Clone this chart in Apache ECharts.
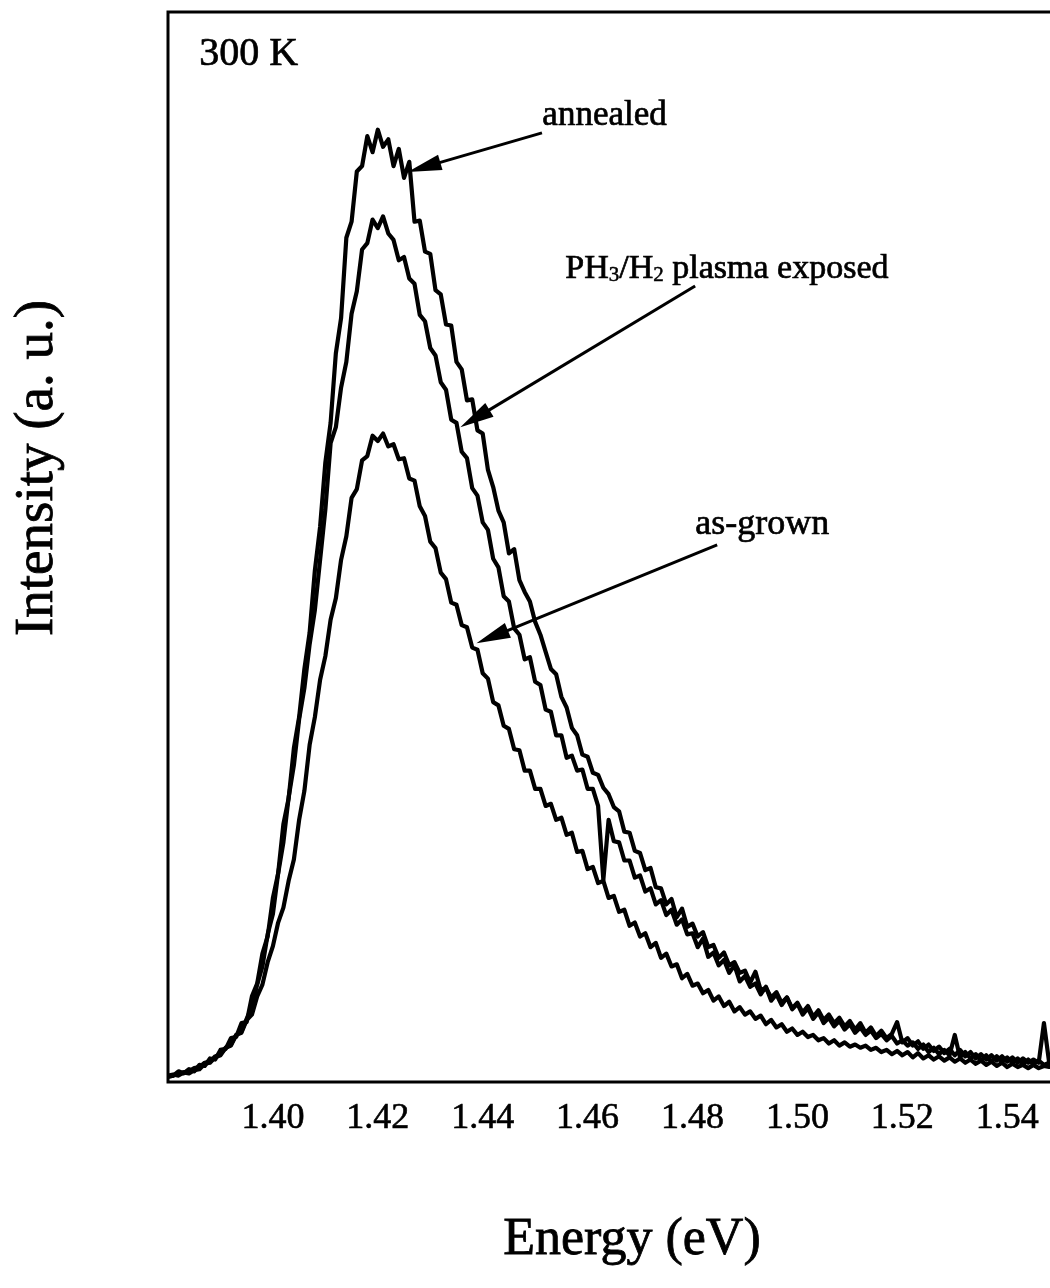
<!DOCTYPE html>
<html>
<head>
<meta charset="utf-8">
<script src="https://cdn.jsdelivr.net/npm/echarts@6/dist/echarts.min.js"></script>
<style>
  html, body { margin: 0; padding: 0; background: #fff; }
  #chart { width: 1050px; height: 1288px; }
</style>
</head>
<body>
<div id="chart"></div>
<script>
// Photon energy of each sample (eV)
const energies = [
  1.380,
  1.381,1.382,1.383,1.384,1.385,1.386,1.387,1.388,1.389,1.390,
  1.391,1.392,1.393,1.394,1.395,1.396,1.397,1.398,1.399,1.400,
  1.401,1.402,1.403,1.404,1.405,1.406,1.407,1.408,1.409,1.410,
  1.411,1.412,1.413,1.414,1.415,1.416,1.417,1.418,1.419,1.420,
  1.421,1.422,1.423,1.424,1.425,1.426,1.427,1.428,1.429,1.430,
  1.431,1.432,1.433,1.434,1.435,1.436,1.437,1.438,1.439,1.440,
  1.441,1.442,1.443,1.444,1.445,1.446,1.447,1.448,1.449,1.450,
  1.451,1.452,1.453,1.454,1.455,1.456,1.457,1.458,1.459,1.460,
  1.461,1.462,1.463,1.464,1.465,1.466,1.467,1.468,1.469,1.470,
  1.471,1.472,1.473,1.474,1.475,1.476,1.477,1.478,1.479,1.480,
  1.481,1.482,1.483,1.484,1.485,1.486,1.487,1.488,1.489,1.490,
  1.491,1.492,1.493,1.494,1.495,1.496,1.497,1.498,1.499,1.500,
  1.501,1.502,1.503,1.504,1.505,1.506,1.507,1.508,1.509,1.510,
  1.511,1.512,1.513,1.514,1.515,1.516,1.517,1.518,1.519,1.520,
  1.521,1.522,1.523,1.524,1.525,1.526,1.527,1.528,1.529,1.530,
  1.531,1.532,1.533,1.534,1.535,1.536,1.537,1.538,1.539,1.540,
  1.541,1.542,1.543,1.544,1.545,1.546,1.547,1.548,1.549
];

// PL intensity (a.u.) after annealing
const annealed = [
  0.5,
  0.6,1.0,0.8,1.2,1.0,1.6,1.5,2.2,2.1,3.0,
  3.1,4.1,4.2,5.5,5.6,8.0,9.2,12.0,13.6,17.2,
  19.5,24.1,26.5,31.2,34.1,38.6,42.0,47.8,51.9,57.9,
  61.6,68.1,71.4,78.9,80.4,85.1,85.6,88.4,86.9,89.0,
  87.4,88.1,85.6,87.2,84.5,86.0,80.4,80.5,77.6,77.4,
  74.0,73.6,70.8,70.7,67.3,66.6,63.7,63.8,60.9,60.6,
  57.2,55.6,53.4,52.3,49.4,49.8,46.9,45.8,44.9,43.0,
  41.8,40.2,38.6,38.1,36.0,35.0,33.1,32.4,30.6,30.4,
  28.9,28.7,27.5,26.9,25.7,25.3,23.4,23.3,21.6,21.4,
  19.8,20.0,18.2,18.1,16.6,17.1,15.4,16.2,14.5,14.8,
  13.6,14.0,12.6,12.8,11.6,12.1,10.9,11.2,10.2,10.4,
  9.3,10.3,8.6,8.8,7.9,8.4,7.4,7.9,6.9,7.4,
  6.5,7.1,6.1,6.7,5.8,6.3,5.5,6.0,5.2,5.7,
  4.9,5.5,4.6,5.1,4.3,4.8,4.1,4.5,5.6,3.7,
  4.1,3.4,3.8,3.1,3.5,2.9,3.3,2.7,3.1,2.5,
  3.0,2.4,2.8,2.2,2.6,2.1,2.5,2.0,2.4,1.9,
  2.3,1.8,2.2,1.8,2.1,1.8,5.5,1.8,1.9
];

// PL intensity (a.u.) after PH3/H2 plasma exposure
const plasmaExposed = [
  0.6,
  0.7,0.6,0.9,0.8,1.1,1.2,1.7,1.8,2.3,2.5,
  3.2,3.4,4.4,4.7,5.9,7.0,9.1,10.8,13.8,15.7,
  19.5,22.4,26.6,29.6,33.9,36.8,40.9,44.1,48.8,53.5,
  59.7,61.2,64.9,67.3,71.8,73.9,77.8,78.4,80.6,79.8,
  80.9,79.3,78.7,76.8,77.1,75.1,74.6,71.7,71.1,68.6,
  67.9,65.4,64.7,61.9,61.6,58.9,58.3,55.5,54.8,52.3,
  51.6,48.9,48.1,45.4,44.9,42.4,41.8,39.5,39.7,37.4,
  37.1,34.8,34.6,32.4,32.4,30.3,30.5,29.1,29.2,27.4,
  27.4,25.8,18.9,24.5,22.5,22.4,20.7,20.7,19.1,19.3,
  17.8,18.1,16.6,17.0,15.6,16.1,14.7,15.2,13.8,13.9,
  12.6,13.4,11.7,12.1,10.9,11.4,10.2,10.9,9.4,9.9,
  8.9,9.2,8.2,8.9,7.6,8.2,7.2,7.9,6.8,7.3,
  6.3,6.9,5.9,6.5,5.5,6.0,5.2,5.7,4.9,5.4,
  4.6,5.1,4.4,4.8,4.1,4.5,3.9,4.3,3.6,3.9,
  3.4,3.7,3.1,3.5,2.8,3.2,2.6,3.0,2.5,4.4,
  2.3,2.8,2.2,2.6,2.0,2.5,1.9,2.4,1.9,2.3,
  1.8,2.2,1.7,2.1,1.7,2.0,1.6,1.8,1.7
];

// PL intensity (a.u.) of the as-grown sample
const asGrown = [
  0.5,
  0.6,0.8,0.9,1.0,1.3,1.4,1.8,1.9,2.4,2.6,
  3.2,3.5,4.4,4.6,5.8,6.3,8.0,9.1,11.2,12.7,
  14.9,16.3,18.8,20.8,24.5,27.2,31.5,34.1,37.6,39.8,
  43.2,45.2,48.8,51.0,54.6,55.4,58.1,58.5,60.4,59.9,
  60.6,59.4,59.6,58.2,58.3,56.4,56.2,53.8,52.9,50.5,
  49.9,47.6,47.0,44.8,44.6,42.7,42.5,40.6,40.4,38.2,
  37.7,35.5,35.2,33.3,33.0,31.1,31.0,29.1,29.1,27.4,
  27.4,25.8,26.0,24.5,24.7,23.1,23.3,21.5,21.6,19.9,
  20.1,18.6,18.8,17.2,17.4,15.9,16.1,14.6,14.9,13.6,
  13.9,12.6,13.0,11.6,12.0,10.8,11.0,9.7,10.1,9.0,
  9.2,8.3,8.6,7.6,8.0,7.1,7.5,6.6,7.0,6.3,
  6.6,5.9,6.2,5.4,5.8,5.1,5.4,4.7,5.0,4.4,
  4.7,4.2,4.4,3.9,4.1,3.6,3.9,3.4,3.7,3.3,
  3.5,3.2,3.4,3.0,3.2,2.8,3.0,2.6,2.9,2.5,
  2.8,2.3,2.7,2.2,2.5,2.1,2.4,2.0,2.3,1.9,
  2.2,1.8,2.1,1.7,2.0,1.6,1.9,1.5,1.8,1.4,
  1.7,1.4,1.6,1.3,1.6,1.3,1.5,1.4,1.5
];

const xTickLabels = ['1.40', '1.42', '1.44', '1.46', '1.48', '1.50', '1.52', '1.54'];

const SERIF = "'Liberation Serif', 'Times New Roman', 'DejaVu Serif', serif";

const pairs = (ys) => energies.map((e, i) => [e, ys[i]]);

const traceStyle = { color: '#000', width: 4.2, join: 'round' };

function arrow(from, to) {
  return [{ coord: from, symbol: 'none' }, { coord: to, symbol: 'triangle' }];
}

// heavy black text, like a printed figure
function inkText(text, size, extra) {
  return Object.assign({
    text: text, font: size + 'px ' + SERIF, fill: '#000',
    stroke: '#000', lineWidth: 0.7
  }, extra || {});
}

const chart = echarts.init(document.getElementById('chart'), null, { renderer: 'canvas' });

chart.setOption({
  animation: false,
  backgroundColor: '#fff',
  grid: {
    show: true,
    left: 168, top: 12, width: 888, height: 1070,
    outerBoundsMode: 'none',
    containLabel: false,
    borderColor: '#000', borderWidth: 3,
    backgroundColor: 'transparent'
  },
  xAxis: {
    type: 'value',
    min: 1.38, max: 1.5493, interval: 0.02,
    axisLine: { show: false },
    axisTick: { show: false },
    splitLine: { show: false },
    axisLabel: {
      margin: 19,
      color: '#000',
      fontFamily: SERIF,
      fontSize: 36,
      textBorderColor: '#000',
      textBorderWidth: 0.6,
      formatter: (v) => {
        const s = v.toFixed(2);
        return xTickLabels.indexOf(s) >= 0 && Math.abs(v - Number(s)) < 1e-6 ? s : '';
      }
    }
  },
  yAxis: {
    type: 'value',
    min: 0, max: 100,
    axisLine: { show: false },
    axisTick: { show: false },
    axisLabel: { show: false },
    splitLine: { show: false }
  },
  series: [
    {
      name: 'annealed', type: 'line', data: pairs(annealed),
      showSymbol: false, symbol: 'none', lineStyle: traceStyle, z: 3,
      markLine: {
        silent: true, animation: false,
        symbolSize: [16, 34],
        label: { show: false },
        lineStyle: { color: '#000', width: 3, type: 'solid' },
        itemStyle: { color: '#000' },
        data: [
          arrow([1.4513, 88.7], [1.4288, 85.5]),
          arrow([1.4805, 74.4], [1.4385, 62.0]),
          arrow([1.4847, 50.2], [1.4418, 41.6])
        ]
      }
    },
    {
      name: 'PH3/H2 plasma exposed', type: 'line', data: pairs(plasmaExposed),
      showSymbol: false, symbol: 'none', lineStyle: traceStyle, z: 3
    },
    {
      name: 'as-grown', type: 'line', data: pairs(asGrown),
      showSymbol: false, symbol: 'none', lineStyle: traceStyle, z: 3
    }
  ],
  graphic: [
    {
      type: 'text', left: 199, top: 34,
      style: inkText('300 K', 40)
    },
    {
      type: 'text', left: 542, top: 98,
      style: inkText('annealed', 35)
    },
    {
      type: 'text', left: 565, top: 252,
      style: inkText('PH{s|3}/H{s|2} plasma exposed', 34, {
        rich: { s: { fontSize: 21, fontFamily: SERIF, verticalAlign: 'bottom', fill: '#000', stroke: '#000', lineWidth: 0.5 } }
      })
    },
    {
      type: 'text', left: 695, top: 506,
      style: inkText('as-grown', 36)
    },
    {
      type: 'text', x: 632, y: 1240,
      style: inkText('Energy (eV)', 52, { align: 'center', verticalAlign: 'middle', lineWidth: 0.8 })
    },
    {
      type: 'text', x: 38, y: 468, rotation: Math.PI / 2,
      style: inkText('Intensity (a. u.)', 55, { align: 'center', verticalAlign: 'middle', lineWidth: 0.8 })
    }
  ]
});
</script>
</body>
</html>
